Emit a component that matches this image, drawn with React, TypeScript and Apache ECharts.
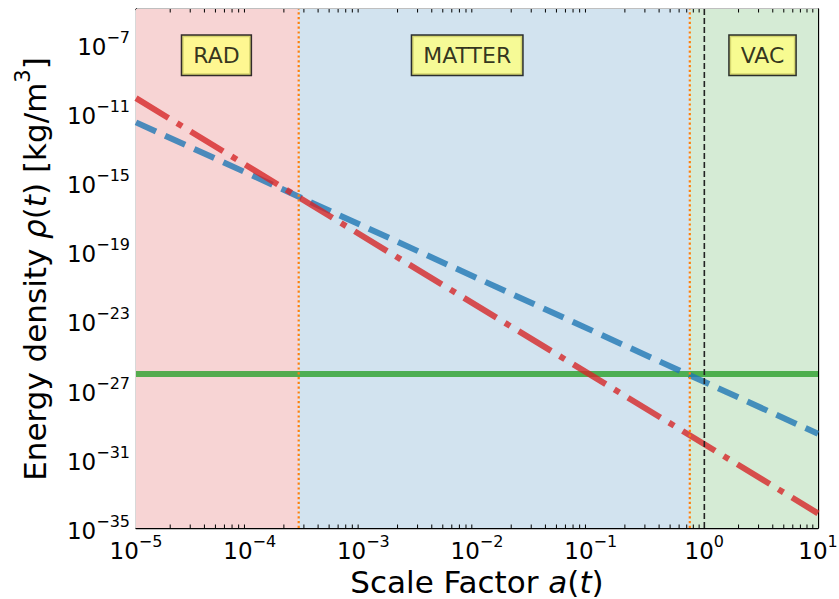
import React, { useEffect, useRef } from "react";
import * as echarts from "echarts";

// Data
const radiation: [number, number][] = [[1e-5, 7e-11], [10, 7e-35]];
const matter: [number, number][] = [[1e-5, 2.8e-12], [10, 2.8e-30]];
const vacuum: [number, number][] = [[1e-5, 8.1e-27], [10, 8.1e-27]];
const aEqRadMatter = 2.7e-4;
const aEqMatterVac = 0.745;
const aToday = 1;
const regionLabels = ["RAD", "MATTER", "VAC"];
const labelX = [5.1e-5, 8.2e-3, 3.25];
const labelY = 2.1e-8;
const xMin = 1e-5;
const xMax = 10;
const yMin = 1e-35;
const yMax = 1e-5;
// y tick labels (every 4 decades), from 10^-35 to 10^-7
const yTickExps = [-35, -31, -27, -23, -19, -15, -11, -7];
const minorTicksX: number[] = [];
for (let d = -5; d < 1; d++) for (let k = 2; k <= 9; k++) minorTicksX.push(k * Math.pow(10, d));

const FONT = "DejaVu Sans";

const tickFmt = (v: number) => {
  const e = Math.round(Math.log10(v));
  return `{b|10}{s|${e < 0 ? "\u2212" : ""}${Math.abs(e)}}`;
};
const tickRich = {
  b: { fontSize: 23, lineHeight: 29, verticalAlign: "bottom", fontFamily: FONT, color: "#000" },
  s: { fontSize: 16, lineHeight: 16, verticalAlign: "top", fontFamily: FONT, color: "#000" },
};

const vline = (a: number): [number, number][] => [[a, yMin], [a, yMax]];

export default function App() {
  const ref = useRef<HTMLDivElement>(null);
  useEffect(() => {
    const chart = echarts.init(ref.current!, null, { renderer: "svg", width: 839, height: 599 });
    const axisLine = { show: true, onZero: false, lineStyle: { color: "#000", width: 1.3 } };
    const majorTick = { show: true, inside: true, length: 6, lineStyle: { color: "#000", width: 1 } };
    const plain = { showSymbol: false, symbol: "none", silent: true };
    const top = 9, height = 519;
    const perDecade = height / 30;
    const rect = { left: 136, top, width: 682, height, containLabel: false, outerBoundsMode: "none" };
    // label grid: same scale, extended 4 decades below so 10^-35 is an inner tick
    const labelRect = { ...rect, height: height + 4 * perDecade };
    chart.setOption({
      animation: false,
      backgroundColor: "#fff",
      grid: [rect, labelRect],
      xAxis: [
        {
          type: "log", logBase: 10, min: xMin, max: xMax, position: "bottom", gridIndex: 0,
          axisLine, axisTick: majorTick, splitLine: { show: false },
          axisLabel: { formatter: tickFmt, rich: tickRich, margin: 5, showMinLabel: true, showMaxLabel: true },
          name: "{n|Scale Factor }{i|a}{n|(}{i|t}{n|)}",
          nameLocation: "middle", nameGap: 33,
          nameTextStyle: {
            rich: {
              n: { fontSize: 31, fontFamily: FONT, color: "#000", lineHeight: 36 },
              i: { fontSize: 31, fontFamily: FONT, fontStyle: "italic", color: "#000", lineHeight: 36 },
            },
          },
        },
        {
          type: "log", logBase: 10, min: xMin, max: xMax, position: "top", gridIndex: 0,
          axisLine, axisTick: majorTick, splitLine: { show: false }, axisLabel: { show: false },
        },
        { type: "log", logBase: 10, min: xMin, max: xMax, gridIndex: 1, show: false },
      ],
      yAxis: [
        {
          type: "log", logBase: 10, min: yMin, max: yMax, interval: 4, position: "left", gridIndex: 0,
          axisLine, axisTick: majorTick, splitLine: { show: false }, axisLabel: { show: false },
        },
        {
          type: "log", logBase: 10, min: yMin, max: yMax, interval: 4, position: "right", gridIndex: 0,
          axisLine, axisTick: majorTick, splitLine: { show: false }, axisLabel: { show: false },
        },
        {
          type: "log", logBase: 10, min: 1e-39, max: yMax, interval: 4, position: "left", gridIndex: 1,
          axisLine: { show: false }, axisTick: { show: false }, splitLine: { show: false },
          axisLabel: {
            formatter: (v: number) => (yTickExps.indexOf(Math.round(Math.log10(v))) >= 0 ? tickFmt(v) : ""),
            rich: tickRich, margin: 6, showMinLabel: false, showMaxLabel: false,
          },
        },
      ],
      graphic: [
        {
          type: "text", x: 31, y: 269, rotation: Math.PI / 2, silent: true,
          style: {
            text: "{n|Energy density }{i|ρ}{n|(}{i|t}{n|) [kg/m}{s|3}{n|]}",
            align: "center", verticalAlign: "middle",
            rich: {
              n: { fontSize: 31, fontFamily: FONT, fill: "#000", lineHeight: 38, verticalAlign: "bottom" },
              i: { fontSize: 31, fontFamily: FONT, fontStyle: "italic", fill: "#000", lineHeight: 38, verticalAlign: "bottom" },
              s: { fontSize: 21, fontFamily: FONT, fill: "#000", lineHeight: 21, verticalAlign: "top" },
            },
          },
        },
      ],
      series: [
        {
          type: "line", data: [], z: 1, silent: true,
          markArea: {
            silent: true,
            data: [
              [{ xAxis: xMin, itemStyle: { color: "#f7d4d4" } }, { xAxis: aEqRadMatter }],
              [{ xAxis: aEqRadMatter, itemStyle: { color: "#d2e3ef" } }, { xAxis: aEqMatterVac }],
              [{ xAxis: aEqMatterVac, itemStyle: { color: "#d5ebd5" } }, { xAxis: xMax }],
            ],
          },
        },
        { type: "line", data: vacuum, ...plain, z: 3, lineStyle: { color: "#2ca02c", opacity: 0.8, width: 6 } },
        { type: "line", data: matter, ...plain, z: 4, lineStyle: { color: "#1f77b4", opacity: 0.8, width: 6, type: [22, 10] } },
        { type: "line", data: radiation, ...plain, z: 5, lineStyle: { color: "#d62728", opacity: 0.8, width: 6, type: [38, 10, 6, 10] } },
        { type: "line", data: vline(aEqRadMatter), ...plain, z: 6, lineStyle: { color: "#ff7f0e", width: 2.2, type: [2.2, 2.6] } },
        { type: "line", data: vline(aEqMatterVac), ...plain, z: 6, lineStyle: { color: "#ff7f0e", width: 2.2, type: [2.2, 2.6] } },
        { type: "line", data: vline(aToday), ...plain, z: 6, lineStyle: { color: "#222", width: 1.6, type: [6, 3] } },
        {
          type: "custom", z: 7, silent: true,
          data: minorTicksX.map((v) => [v, 1e-20]),
          renderItem: (params: any, api: any) => {
            const x = api.coord([api.value(0), 1e-20])[0];
            const t = params.coordSys.y;
            const b = t + params.coordSys.height;
            return {
              type: "group",
              children: [
                { type: "line", shape: { x1: x, y1: b, x2: x, y2: b - 3.5 }, style: { stroke: "#000", lineWidth: 1 } },
                { type: "line", shape: { x1: x, y1: t, x2: x, y2: t + 3.5 }, style: { stroke: "#000", lineWidth: 1 } },
              ],
            };
          },
        },
        {
          type: "scatter", z: 8, silent: true, symbolSize: 0,
          data: regionLabels.map((t, i) => ({ value: [labelX[i], labelY], name: t })),
          label: {
            show: true, position: "inside", formatter: (p: any) => p.name,
            fontSize: 22, fontFamily: FONT, color: "#000", lineHeight: 25,
            backgroundColor: "#ffff80", borderColor: "#000", borderWidth: 1.5,
            padding: [7, 11, 7, 11],
          },
        },
      ],
    });
    return () => chart.dispose();
  }, []);
  return <div ref={ref} style={{ width: 839, height: 599, position: "absolute", left: 0, top: 0 }} />;
}
